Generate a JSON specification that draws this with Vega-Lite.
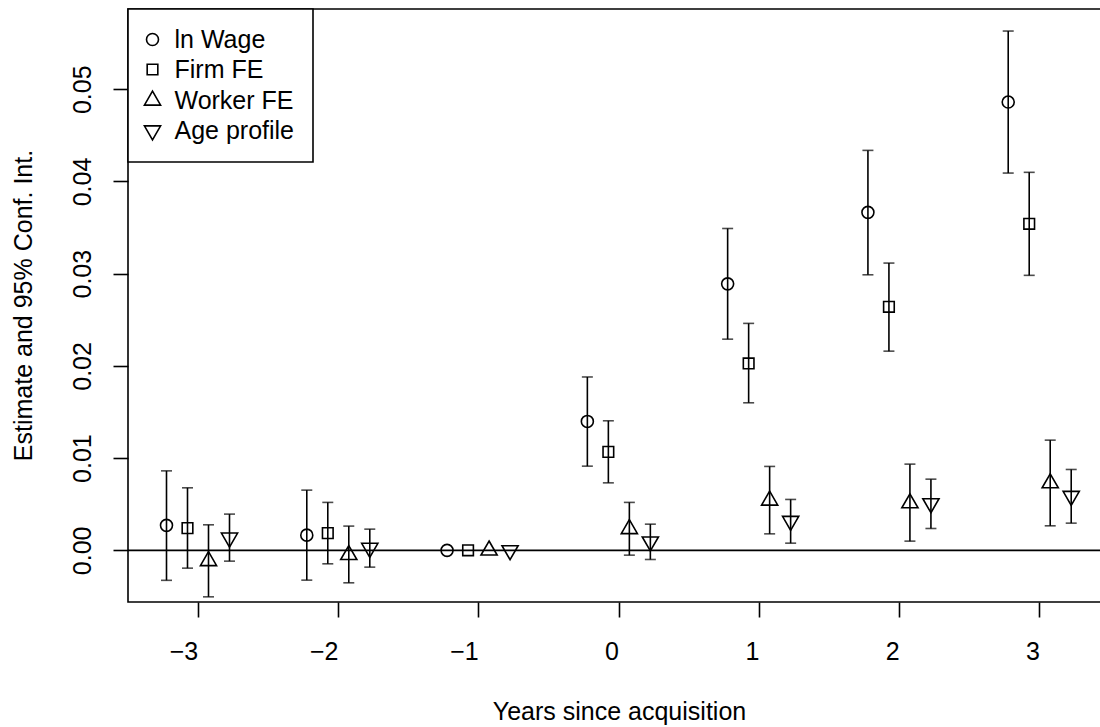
{
  "$schema": "https://vega.github.io/schema/vega-lite/v6.json",
  "width": 982,
  "height": 593,
  "autosize": {"type": "none"},
  "padding": {"left": 128, "top": 9, "right": 0, "bottom": 125},
  "background": "white",
  "config": {
    "font": "Liberation Sans",
    "view": {"stroke": "black", "strokeWidth": 1.6},
    "axis": {
      "labelFont": "Liberation Sans",
      "titleFont": "Liberation Sans",
      "labelFontSize": 25,
      "titleFontSize": 25,
      "titleFontWeight": "normal",
      "labelColor": "black",
      "titleColor": "black",
      "tickColor": "black",
      "tickWidth": 1.6,
      "tickSize": 15,
      "grid": false,
      "domain": false
    },
    "legend": {
      "labelFont": "Liberation Sans",
      "labelFontSize": 25,
      "labelColor": "black",
      "labelLimit": 0,
      "strokeWidth": 1.6
    }
  },
  "data": {
    "values": [
      {"year": -3, "series": "ln Wage", "est": 0.00271, "lo": -0.00325, "hi": 0.00862},
      {"year": -3, "series": "Firm FE", "est": 0.00241, "lo": -0.00193, "hi": 0.00678},
      {"year": -3, "series": "Worker FE", "est": -0.00115, "lo": -0.00504, "hi": 0.00277},
      {"year": -3, "series": "Age profile", "est": 0.00137, "lo": -0.00117, "hi": 0.00393},
      {"year": -2, "series": "ln Wage", "est": 0.00165, "lo": -0.00323, "hi": 0.00653},
      {"year": -2, "series": "Firm FE", "est": 0.00187, "lo": -0.00146, "hi": 0.0052},
      {"year": -2, "series": "Worker FE", "est": -0.00049, "lo": -0.00352, "hi": 0.00263},
      {"year": -2, "series": "Age profile", "est": 0.00026, "lo": -0.00182, "hi": 0.0023},
      {"year": -1, "series": "ln Wage", "est": 0, "lo": null, "hi": null},
      {"year": -1, "series": "Firm FE", "est": 0, "lo": null, "hi": null},
      {"year": -1, "series": "Worker FE", "est": 0, "lo": null, "hi": null},
      {"year": -1, "series": "Age profile", "est": 0, "lo": null, "hi": null},
      {"year": 0, "series": "ln Wage", "est": 0.01398, "lo": 0.00913, "hi": 0.0188},
      {"year": 0, "series": "Firm FE", "est": 0.01068, "lo": 0.00732, "hi": 0.01405},
      {"year": 0, "series": "Worker FE", "est": 0.00232, "lo": -0.00052, "hi": 0.0052},
      {"year": 0, "series": "Age profile", "est": 0.00095, "lo": -0.00099, "hi": 0.00284},
      {"year": 1, "series": "ln Wage", "est": 0.0289, "lo": 0.0229, "hi": 0.0349},
      {"year": 1, "series": "Firm FE", "est": 0.02027, "lo": 0.016, "hi": 0.02461},
      {"year": 1, "series": "Worker FE", "est": 0.00541, "lo": 0.00179, "hi": 0.0091},
      {"year": 1, "series": "Age profile", "est": 0.00318, "lo": 0.00078, "hi": 0.00552},
      {"year": 2, "series": "ln Wage", "est": 0.03665, "lo": 0.02988, "hi": 0.04337},
      {"year": 2, "series": "Firm FE", "est": 0.02641, "lo": 0.0216, "hi": 0.03115},
      {"year": 2, "series": "Worker FE", "est": 0.00512, "lo": 0.001, "hi": 0.00935},
      {"year": 2, "series": "Age profile", "est": 0.00509, "lo": 0.00237, "hi": 0.00772},
      {"year": 3, "series": "ln Wage", "est": 0.04861, "lo": 0.04091, "hi": 0.05631},
      {"year": 3, "series": "Firm FE", "est": 0.03541, "lo": 0.02982, "hi": 0.04099},
      {"year": 3, "series": "Worker FE", "est": 0.00729, "lo": 0.00266, "hi": 0.01195},
      {"year": 3, "series": "Age profile", "est": 0.00589, "lo": 0.00295, "hi": 0.00877}
    ]
  },
  "layer": [
    {
      "data": {"values": [{"ref": 0}]},
      "mark": {"type": "rule", "color": "black", "strokeWidth": 1.6},
      "encoding": {
        "y": {"field": "ref", "type": "quantitative"}
      }
    },
    {
      "transform": [{"filter": "isValid(datum.lo)"}],
      "mark": {"type": "rule", "color": "black", "strokeWidth": 1.6},
      "encoding": {
        "x": {"field": "year", "type": "ordinal", "sort": [-3, -2, -1, 0, 1, 2, 3]},
        "xOffset": {"field": "series", "type": "nominal", "sort": ["ln Wage", "Firm FE", "Worker FE", "Age profile"]},
        "y": {"field": "lo", "type": "quantitative"},
        "y2": {"field": "hi"}
      }
    },
    {
      "transform": [{"filter": "isValid(datum.lo)"}],
      "mark": {"type": "tick", "color": "black", "orient": "horizontal", "size": 11, "thickness": 1.6},
      "encoding": {
        "x": {"field": "year", "type": "ordinal", "sort": [-3, -2, -1, 0, 1, 2, 3]},
        "xOffset": {"field": "series", "type": "nominal", "sort": ["ln Wage", "Firm FE", "Worker FE", "Age profile"]},
        "y": {"field": "lo", "type": "quantitative"}
      }
    },
    {
      "transform": [{"filter": "isValid(datum.hi)"}],
      "mark": {"type": "tick", "color": "black", "orient": "horizontal", "size": 11, "thickness": 1.6},
      "encoding": {
        "x": {"field": "year", "type": "ordinal", "sort": [-3, -2, -1, 0, 1, 2, 3]},
        "xOffset": {"field": "series", "type": "nominal", "sort": ["ln Wage", "Firm FE", "Worker FE", "Age profile"]},
        "y": {"field": "hi", "type": "quantitative"}
      }
    },
    {
      "mark": {"type": "point", "filled": false, "stroke": "black", "strokeWidth": 1.6, "size": 400, "opacity": 1},
      "encoding": {
        "x": {
          "field": "year",
          "type": "ordinal",
          "sort": [-3, -2, -1, 0, 1, 2, 3],
          "scale": {"type": "band", "paddingInner": 0, "paddingOuter": 0},
          "axis": {
            "title": "Years since acquisition",
            "labelAngle": 0,
            "bandPosition": 0.5,
            "labelExpr": "replace(datum.label, '-', '−')",
            "labelBaseline": "alphabetic",
            "labelPadding": 42,
            "titleBaseline": "alphabetic",
            "titleY": 117
          }
        },
        "xOffset": {
          "field": "series",
          "type": "nominal",
          "sort": ["ln Wage", "Firm FE", "Worker FE", "Age profile"],
          "scale": {"type": "point", "domain": ["ln Wage", "Firm FE", "Worker FE", "Age profile"], "range": [38.5, 101.5], "padding": 0}
        },
        "y": {
          "field": "est",
          "type": "quantitative",
          "scale": {"domain": [-0.0056, 0.0587], "nice": false, "zero": false},
          "axis": {
            "title": "Estimate and 95% Conf. Int.",
            "values": [0, 0.01, 0.02, 0.03, 0.04, 0.05],
            "format": ".2f",
            "labelAngle": -90,
            "labelAlign": "center",
            "labelBaseline": "alphabetic",
            "labelPadding": 22.6,
            "titleBaseline": "alphabetic",
            "titleX": -97,
            "titleY": 296
          }
        },
        "shape": {
          "field": "series",
          "type": "nominal",
          "scale": {
            "domain": ["ln Wage", "Firm FE", "Worker FE", "Age profile"],
            "range": [
              "M0.6,0A0.6,0.6,0,1,1,-0.6,0A0.6,0.6,0,1,1,0.6,0Z",
              "M-0.5317,-0.5317H0.5317V0.5317H-0.5317Z",
              "M0,-0.9331L0.8081,0.4666L-0.8081,0.4666Z",
              "M0,0.9331L0.8081,-0.4666L-0.8081,-0.4666Z"
            ]
          },
          "legend": {
            "title": null,
            "orient": "none",
            "legendX": 0,
            "legendY": 0,
            "strokeColor": "black",
            "fillColor": "white",
            "padding": 18,
            "rowPadding": 4,
            "labelOffset": 9.5,
            "symbolOffset": -6,
            "symbolSize": 400,
            "symbolStrokeWidth": 1.6,
            "symbolStrokeColor": "black",
            "symbolFillColor": "transparent"
          }
        }
      }
    }
  ]
}
